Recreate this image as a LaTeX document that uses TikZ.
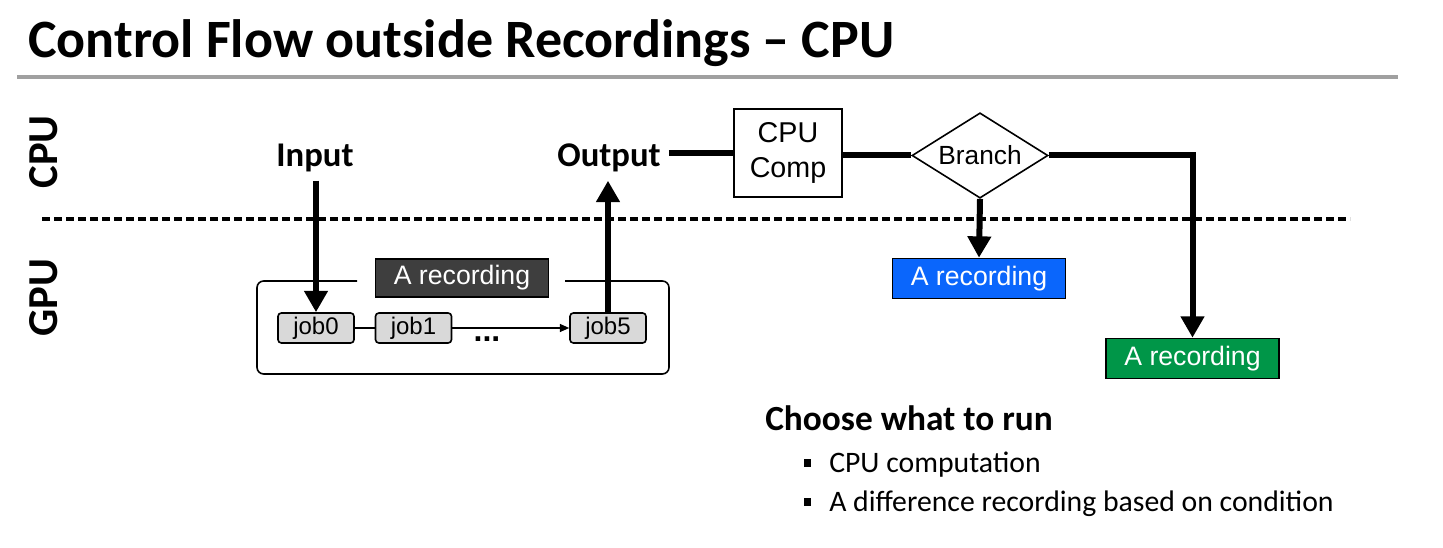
\documentclass[tikz,border=0pt]{standalone}
\usepackage{fontspec}
\setmainfont{Carlito}
\newfontfamily\arialfont{Liberation Sans}
\usetikzlibrary{shapes.geometric,arrows.meta}
\definecolor{jobgray}{RGB}{217,217,217}
\definecolor{recdark}{RGB}{62,62,62}
\definecolor{recblue}{RGB}{10,102,252}
\definecolor{recgreen}{RGB}{0,150,72}
\definecolor{rulegray}{RGB}{160,160,160}
\begin{document}
\begin{tikzpicture}[x=0.75pt,y=-0.75pt,
    flow/.style={black, line width=4.5pt},
    bigtip/.style={-{Triangle[length=16pt,width=17pt]}},
    lbl/.style={font=\fontsize{26}{31}\selectfont\bfseries, anchor=base, inner sep=6pt},
    side/.style={font=\fontsize{32}{38}\selectfont\bfseries, rotate=90},
    jobbox/.style={draw, line width=1.2pt, fill=jobgray, rounded corners=2.5pt, minimum width=57pt, minimum height=22.5pt, inner sep=0pt, font=\arialfont\fontsize{18}{21}\selectfont},
    recbox/.style={draw, line width=1.2pt, text=white, minimum width=130pt, minimum height=30pt, inner sep=0pt, font=\arialfont\fontsize{20}{24}\selectfont}]
        \useasboundingbox (0,0) rectangle (1443,548);
        % title and rule
        \node[anchor=base west, inner sep=0pt, font=\fontsize{40.5}{48}\selectfont\bfseries] (title) at (28,58) {Control Flow outside Recordings – CPU};
        \draw[rulegray, line width=2.6pt] (17,77) -- (1398,77);
        % CPU / GPU split
        \node[side] (cpu) at (44,152) {CPU};
        \node[side] (gpu) at (44,298) {GPU};
        \draw[black, line width=2.5pt, dash pattern=on 6pt off 3pt] (42,219) -- (1350,219);
        % recording with jobs
        \draw[black, line width=1.2pt, rounded corners=5pt] (357,281) -- (257,281) -- (257,374) -- (669,374) -- (669,281) -- (565,281);
        \node[recbox, fill=recdark, minimum height=28.5pt] (rec) at (462,278) {A recording};
        \node[jobbox] (job0) at (316,328) {job0};
        \node[jobbox] (job1) at (413.5,328) {job1};
        \node[jobbox] (job5) at (608,328) {job5};
        \node[anchor=base, font=\arialfont\fontsize{24}{28}\selectfont\bfseries] (dots) at (487,342) {...};
        \draw[black, line width=1pt] (job0.east) -- (job1.west);
        \draw[black, line width=1pt, -{Triangle[length=7pt,width=6pt]}] (job1.east) -- (job5.west);
        % input and output
        \node[lbl] (input) at (315,167) {Input};
        \node[lbl] (output) at (609,167) {Output};
        \draw[flow, bigtip] (input.south -| job0.north) -- (job0.north);
        \draw[flow, bigtip] (job5.north) -- (job5.north |- output.south);
        % CPU side control flow
        \node[draw, line width=1.5pt, fill=white, minimum width=81pt, minimum height=66pt, inner sep=0pt, align=center, font=\arialfont\fontsize{21.5}{26}\selectfont] (comp) at (788,153) {CPU\\Comp};
        \node[draw, diamond, shape aspect=1.6, line width=1.2pt, minimum width=102pt, minimum height=64pt, inner sep=0pt, font=\arialfont\fontsize{19.7}{24}\selectfont] (branch) at (980,155.5) {Branch};
        \draw[flow] (output.east |- comp.west) -- (comp.west);
        \draw[flow] (comp.east |- branch.west) -- (branch.west);
        \node[recbox, fill=recblue] (recA) at (979,278.5) {A recording};
        \node[recbox, fill=recgreen] (recB) at (1192.5,358.5) {A recording};
        \draw[flow, bigtip] (branch.south) -- (recA.north);
        \draw[flow, bigtip] (branch.east) -| (recB.north);
        % notes
        \node[anchor=base west, inner sep=0pt, font=\fontsize{26.5}{32}\selectfont\bfseries] (choose) at (765,431) {Choose what to run};
        \node[anchor=base west, inner sep=0pt, font=\fontsize{22.3}{27}\selectfont] (item1) at (829,473) {CPU computation};
        \node[anchor=base west, inner sep=0pt, font=\fontsize{22.3}{27}\selectfont] (item2) at (829,512) {A difference recording based on condition};
        \fill[black] (804,459) rectangle (811,467);
        \fill[black] (804,498) rectangle (811,506);
    \end{tikzpicture}
\end{document}
